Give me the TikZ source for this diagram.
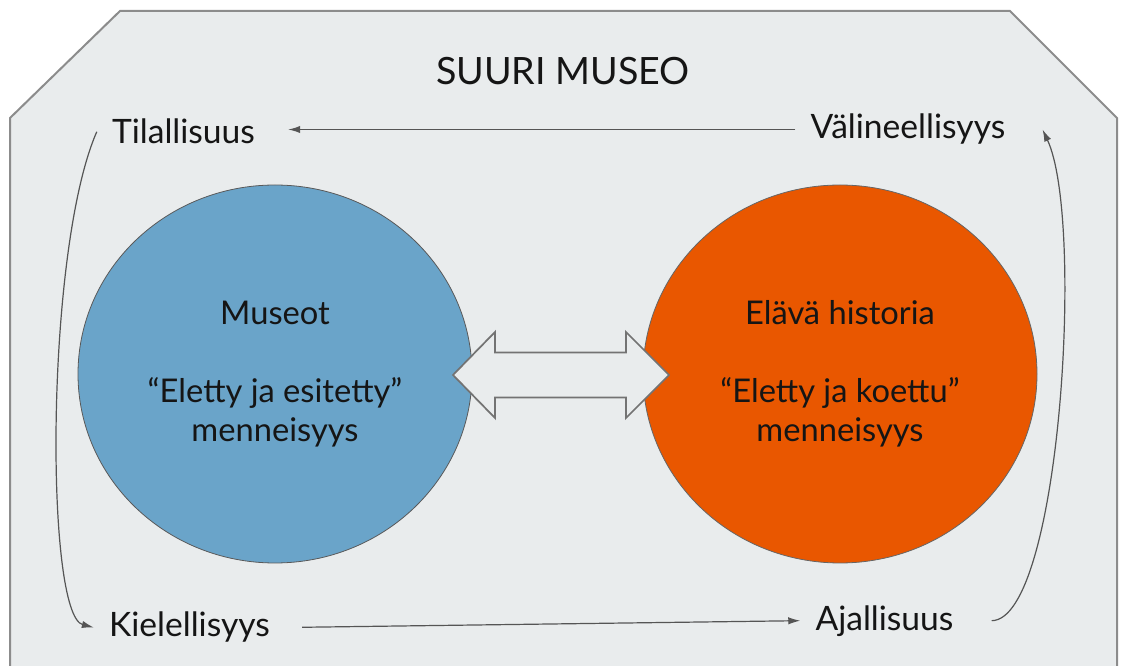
\documentclass[tikz,border=0pt]{standalone}
\usepackage{fontspec}
\setmainfont{Lato}
\usetikzlibrary{arrows.meta,shapes.geometric}

\definecolor{museobg}{HTML}{E9ECED}
\definecolor{museoframe}{HTML}{8C8C8C}
\definecolor{museoblue}{HTML}{6AA4C9}
\definecolor{historyorange}{HTML}{E95700}
\definecolor{inkgray}{HTML}{151515}
\definecolor{flowgray}{HTML}{555555}

\begin{document}
\begin{tikzpicture}[x=0.75pt,y=-0.75pt]
		\tikzset{aspect/.style = {font=\fontsize{25.2}{30}\selectfont, text=inkgray, inner xsep=11.25pt, anchor=base}}
		\tikzset{sphere/.style = {ellipse, minimum width=295.5pt, minimum height=283.5pt, inner sep=0pt, align=center, text=inkgray, font=\fontsize{24.5}{29.25}\selectfont}}
		\tikzset{flow/.style = {draw=flowgray, line width=0.9pt, -{Latex[length=9pt,width=5.5pt]}}}

		\useasboundingbox (0,0) rectangle (1122,666);
		\clip (0,0) rectangle (1122,666);

		% museum frame
		\draw[draw=museoframe, fill=museobg, line width=1.5pt] (120,11) -- (1010,11) -- (1117,118) -- (1117,700) -- (10,700) -- (10,118) -- cycle;

		\node[font=\fontsize{28.2}{32}\selectfont, text=inkgray] (title) at (563,71) {SUURI MUSEO};

		\node[sphere, fill=museoblue, draw=black!65, line width=0.6pt] (museot) at (275,374) {Museot\\[29.25pt]“Eletty ja esitetty”\\menneisyys};
		\node[sphere, fill=historyorange, draw=black!60, line width=0.6pt] (elava) at (840,374) {Elävä historia\\[29.25pt]“Eletty ja koettu”\\menneisyys};

		% two-way arrow
		\draw[draw=black!55, fill=museobg, line width=1.3pt, line join=miter] (453,375) -- (495,332) -- (495,352.5) -- (626,352.5) -- (626,332) -- (669,375) -- (626,418) -- (626,397.5) -- (495,397.5) -- (495,418) -- cycle;

		\node[aspect] (tila) at (183.5,144) {Tilallisuus};
		\node[aspect] (vali) at (908,139) {Välineellisyys};
		\node[aspect] (kiel) at (189.5,637) {Kielellisyys};
		\node[aspect] (ajal) at (884.5,630) {Ajallisuus};

		\coordinate (ajal-out) at ([xshift=17.25pt]ajal.east);
		\coordinate (vali-in) at ([xshift=16.5pt]vali.east);

		\draw[flow, shorten >=13.5pt] (vali.west) -- (vali.west -| tila.east);
		\draw[flow] (tila.west) .. controls (45,250) and (45,615) .. (kiel.west);
		\draw[flow, shorten <=12.75pt] (kiel.east) -- (ajal.west);
		\draw[flow] (ajal-out) .. controls (1060,620) and (1085,220) .. (vali-in);

	\end{tikzpicture}
\end{document}
